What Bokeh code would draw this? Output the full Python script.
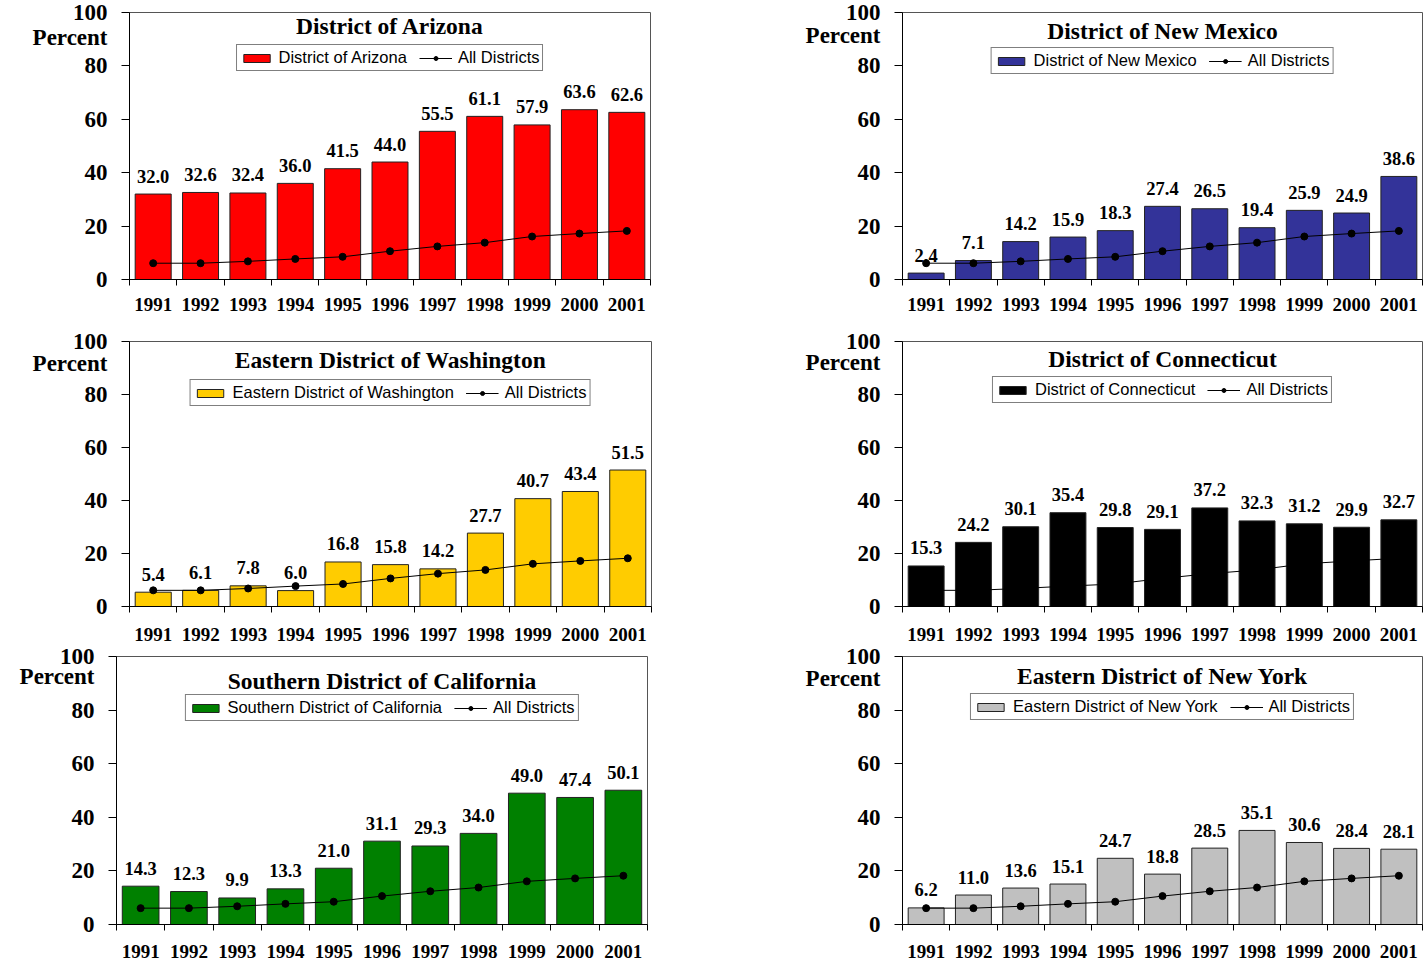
from bokeh.plotting import figure
from bokeh.models import Range1d, FixedTicker, Label, Legend, LegendItem
from bokeh.layouts import row, column
from bokeh.embed import file_html
from bokeh.resources import INLINE
from bokeh.core.properties import value

# ---------------- data ----------------
years = ["1991", "1992", "1993", "1994", "1995", "1996",
         "1997", "1998", "1999", "2000", "2001"]
all_districts = [6.1, 6.1, 6.8, 7.7, 8.5, 10.6, 12.4, 13.8, 16.1, 17.2, 18.2]

arizona = [32.0, 32.6, 32.4, 36.0, 41.5, 44.0, 55.5, 61.1, 57.9, 63.6, 62.6]
new_mexico = [2.4, 7.1, 14.2, 15.9, 18.3, 27.4, 26.5, 19.4, 25.9, 24.9, 38.6]
washington = [5.4, 6.1, 7.8, 6.0, 16.8, 15.8, 14.2, 27.7, 40.7, 43.4, 51.5]
connecticut = [15.3, 24.2, 30.1, 35.4, 29.8, 29.1, 37.2, 32.3, 31.2, 29.9, 32.7]
california = [14.3, 12.3, 9.9, 13.3, 21.0, 31.1, 29.3, 34.0, 49.0, 47.4, 50.1]
new_york = [6.2, 11.0, 13.6, 15.1, 24.7, 18.8, 28.5, 35.1, 30.6, 28.4, 28.1]

y_ticks = [0, 20, 40, 60, 80, 100]
y_title = "Percent"
line_label = "All Districts"

SERIF = "Liberation Serif"
SANS = "Liberation Sans"


def panel(name, series, color, fw, fh, bl, br, bt, bb,
          title_off, pct_off, leg_margin, year_standoff):
    n = len(years)
    xs = [float(i) + 0.5 for i in range(n)]
    p = figure(frame_width=fw, frame_height=fh,
               min_border_left=bl, min_border_right=br,
               min_border_top=bt, min_border_bottom=bb,
               x_range=Range1d(0, n), y_range=Range1d(0, 100),
               output_backend="svg", toolbar_location=None, tools="")
    p.background_fill_color = "white"
    p.border_fill_color = "white"
    p.outline_line_color = "#555555"
    p.outline_line_width = 1
    p.xgrid.visible = False
    p.ygrid.visible = False

    # x axis: labels at category centres, tick marks at category boundaries
    xa = p.xaxis[0]
    xa.ticker = FixedTicker(ticks=xs, minor_ticks=[float(i) for i in range(n + 1)])
    xa.major_label_overrides = {x: y for x, y in zip(xs, years)}
    xa.major_tick_in = 0
    xa.major_tick_out = 0
    xa.minor_tick_in = 0
    xa.minor_tick_out = 6
    xa.minor_tick_line_color = "black"
    xa.axis_line_color = "black"
    xa.major_label_standoff = year_standoff
    xa.major_label_text_font = SERIF
    xa.major_label_text_font_style = "bold"
    xa.major_label_text_font_size = "19px"
    xa.major_label_text_color = "black"

    # y axis: tick marks drawn as minor ticks, "Percent" as an extra label
    pct_y = round(100 - pct_off * 100.0 / fh, 2)
    ya = p.yaxis[0]
    ya.ticker = FixedTicker(ticks=[float(t) for t in y_ticks] + [pct_y],
                            minor_ticks=[float(t) for t in y_ticks])
    ya.major_label_overrides = {pct_y: y_title}
    ya.major_tick_in = 0
    ya.major_tick_out = 8
    ya.major_tick_line_color = None
    ya.minor_tick_in = 0
    ya.minor_tick_out = 8
    ya.minor_tick_line_color = "black"
    ya.axis_line_color = "black"
    ya.major_label_standoff = 14
    ya.major_label_text_font = SERIF
    ya.major_label_text_font_style = "bold"
    ya.major_label_text_font_size = "23px"
    ya.major_label_text_color = "black"

    px = 100.0 / fh  # data units per pixel

    r_bar = p.vbar(x=xs, top=series, width=0.76, bottom=0,
                   fill_color=color, line_color="#222222", line_width=1)
    r_line = p.line(xs, all_districts, line_color="black", line_width=1)
    r_dot = p.scatter(xs, all_districts, size=7, marker="circle",
                      fill_color="black", line_color="black")

    p.text(x=xs, y=[v + 18 * px for v in series],
           text=[f"{v:.1f}" for v in series],
           text_align="center", text_baseline="middle",
           text_font=value(SERIF), text_font_style="bold",
           text_font_size="18.5px", text_color="black")

    p.add_layout(Label(x=n / 2.0, y=100 - title_off * px, text=name,
                       text_align="center", text_baseline="middle",
                       text_font=SERIF, text_font_style="bold",
                       text_font_size="23.5px", text_color="black"))

    leg = Legend(items=[LegendItem(label=value(name), renderers=[r_bar]),
                        LegendItem(label=value(line_label), renderers=[r_line, r_dot])],
                 orientation="horizontal", location="top_center",
                 margin=leg_margin, padding=3, spacing=12,
                 glyph_width=33, glyph_height=10, label_standoff=6,
                 label_height=19,
                 label_text_font=SANS, label_text_font_size="16.5px",
                 label_text_color="black",
                 border_line_color="black", border_line_width=1,
                 background_fill_color="white", background_fill_alpha=1.0)
    p.add_layout(leg)
    return p


# row 1: frames 12 -> 279
p1 = panel("District of Arizona", arizona, "#FF0000",
           521, 267, 129, 58, 12, 46, 13, 25, 32, 12)
p2 = panel("District of New Mexico", new_mexico, "#333399",
           520, 267, 194, 1, 12, 46, 18, 23, 35, 12)
# row 2: frames 341 -> 606
p3 = panel("Eastern District of Washington", washington, "#FFCC00",
           522, 265, 129, 57, 16, 39, 18, 22, 38, 15)
p4 = panel("District of Connecticut", connecticut, "#000000",
           520, 265, 194, 1, 16, 39, 17, 21, 35, 15)
# row 3: frames 656 -> 924
p5 = panel("Southern District of California", california, "#008000",
           531, 268, 116, 61, 11, 38, 24, 20, 38, 14)
p6 = panel("Eastern District of New York", new_york, "#C0C0C0",
           520, 268, 194, 1, 11, 38, 19, 22, 37, 14)

layout = column(row(p1, p2), row(p3, p4), row(p5, p6))
open("out.html", "w").write(file_html(layout, INLINE))
